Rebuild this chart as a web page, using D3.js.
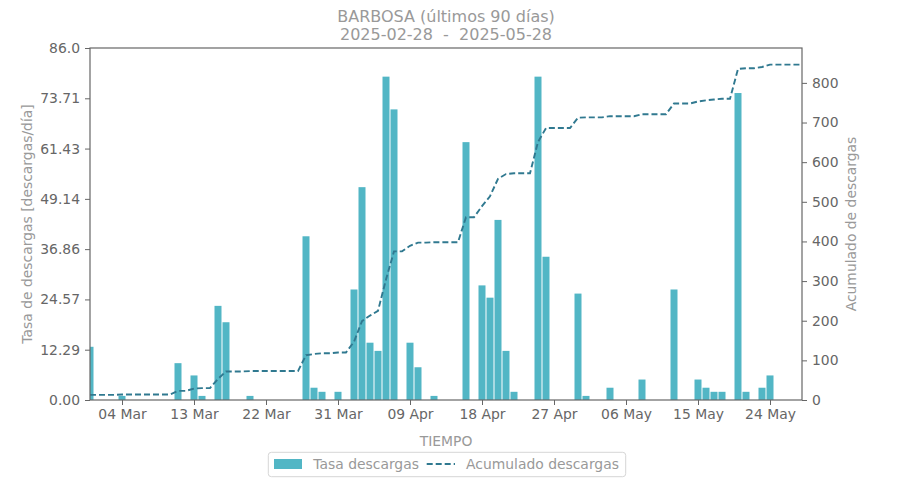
<!DOCTYPE html>
<html>
<head>
<meta charset="utf-8">
<script src="https://cdn.jsdelivr.net/npm/d3@7"></script>
<style>
  body { margin: 0; background: #fff; }
  svg { font-family: "DejaVu Sans", sans-serif; }
</style>
</head>
<body>
<div class="chart"></div>
<script>
// datos diarios, desde el 2025-02-28 (90 dias)
const fechaInicio = '2025-02-28';
const fechaFin = '2025-05-28';
const tasa = [
  13, 0, 0, 0, 1, 0, 0, 0, 0, 0,
  0, 9, 0, 6, 1, 0, 23, 19, 0, 0,
  1, 0, 0, 0, 0, 0, 0, 40, 3, 2,
  0, 2, 0, 27, 52, 14, 12, 79, 71, 0,
  14, 8, 0, 1, 0, 0, 0, 63, 0, 28,
  25, 44, 12, 2, 0, 0, 79, 35, 0, 0,
  0, 26, 1, 0, 0, 3, 0, 0, 0, 5,
  0, 0, 0, 27, 0, 0, 5, 3, 2, 2,
  0, 75, 2, 0, 3, 6, 0, 0, 0, 0
];
const xTicks = ['2025-03-04', '2025-03-13', '2025-03-22', '2025-03-31', '2025-04-09',
                '2025-04-18', '2025-04-27', '2025-05-06', '2025-05-15', '2025-05-24'];
const yTicks = [0, 12.29, 24.57, 36.86, 49.14, 61.43, 73.71, 86.0];
const yMax = 86;
const y2Max = 888;

const parse = d3.utcParse('%Y-%m-%d');
const start = parse(fechaInicio);
const dias = tasa.map((v, i) => d3.utcDay.offset(start, i));
const acumulado = Array.from(d3.cumsum(tasa));

const width = 900;
const height = 500;
const m = {left: 90, right: 802, top: 48, bottom: 400};

const barColor = '#52b6c5';
const lineColor = '#307990';
const axisColor = '#666';
const labelColor = '#999';

const svg = d3.select('.chart')
  .append('svg')
  .attr('width', width)
  .attr('height', height);

const x = d3.scaleUtc()
  .domain([start, parse(fechaFin)])
  .range([m.left, m.right]);
const y = d3.scaleLinear().domain([0, yMax]).range([m.bottom, m.top]);
const y2 = d3.scaleLinear().domain([0, y2Max]).range([m.bottom, m.top]);

const dayW = x(d3.utcDay.offset(start, 1)) - x(start);
const barW = dayW * 0.875;

svg.append('clipPath').attr('id', 'clip')
  .append('rect')
  .attr('x', m.left).attr('y', m.top)
  .attr('width', m.right - m.left).attr('height', m.bottom - m.top);

const plot = svg.append('g').attr('clip-path', 'url(#clip)');

plot.selectAll('rect.bar')
  .data(tasa)
  .enter()
  .append('rect')
  .attr('class', 'bar')
  .attr('x', (d, i) => x(dias[i]) - barW / 2)
  .attr('y', d => y(d))
  .attr('width', barW)
  .attr('height', d => m.bottom - y(d))
  .attr('fill', barColor);

const line = d3.line()
  .x((d, i) => x(dias[i]))
  .y(d => y2(d));

plot.append('path')
  .datum(acumulado)
  .attr('d', line)
  .attr('fill', 'none')
  .attr('stroke', lineColor)
  .attr('stroke-width', 1.9)
  .attr('stroke-dasharray', '6,3');

// ejes
const styleAxis = g => {
  g.select('.domain').remove();
  g.selectAll('.tick line').attr('stroke', axisColor);
  g.selectAll('.tick text')
    .attr('fill', axisColor)
    .attr('font-size', 13.9)
    .attr('font-family', '"DejaVu Sans", sans-serif');
};

svg.append('g')
  .attr('transform', `translate(0,${m.bottom})`)
  .call(d3.axisBottom(x)
    .tickValues(xTicks.map(parse))
    .tickFormat(d3.utcFormat('%d %b'))
    .tickSize(5).tickPadding(4))
  .call(styleAxis);

svg.append('g')
  .attr('transform', `translate(${m.left},0)`)
  .call(d3.axisLeft(y)
    .tickValues(yTicks)
    .tickFormat(d => d === 86 ? '86.0' : d.toFixed(2))
    .tickSize(5).tickPadding(5))
  .call(styleAxis);

svg.append('g')
  .attr('transform', `translate(${m.right},0)`)
  .call(d3.axisRight(y2)
    .tickValues(d3.range(0, 801, 100))
    .tickSize(5).tickPadding(5))
  .call(styleAxis);

svg.append('rect')
  .attr('x', m.left).attr('y', m.top)
  .attr('width', m.right - m.left).attr('height', m.bottom - m.top)
  .attr('fill', 'none')
  .attr('stroke', axisColor)
  .attr('stroke-width', 1.2);

// titulo en dos lineas
svg.append('text')
  .attr('x', 446).attr('y', 22)
  .attr('text-anchor', 'middle')
  .attr('font-size', 16)
  .attr('fill', labelColor)
  .text('BARBOSA (últimos 90 días)');

svg.append('text')
  .attr('x', 446).attr('y', 40)
  .attr('text-anchor', 'middle')
  .attr('font-size', 16)
  .attr('fill', labelColor)
  .attr('xml:space', 'preserve')
  .style('white-space', 'pre')
  .text(fechaInicio + '  -  ' + fechaFin);

svg.append('text')
  .attr('x', (m.left + m.right) / 2).attr('y', 446.3)
  .attr('text-anchor', 'middle')
  .attr('font-size', 13.9)
  .attr('fill', labelColor)
  .text('TIEMPO');

svg.append('text')
  .attr('transform', `translate(32,${(m.top + m.bottom) / 2}) rotate(-90)`)
  .attr('text-anchor', 'middle')
  .attr('font-size', 13.9)
  .attr('fill', labelColor)
  .text('Tasa de descargas [descargas/día]');

svg.append('text')
  .attr('transform', `translate(855.5,${(m.top + m.bottom) / 2}) rotate(-90)`)
  .attr('text-anchor', 'middle')
  .attr('font-size', 13.9)
  .attr('fill', labelColor)
  .text('Acumulado de descargas');

// leyenda
const legend = svg.append('g');
legend.append('rect')
  .attr('x', 268.3).attr('y', 452.3)
  .attr('width', 357.4).attr('height', 24.4)
  .attr('rx', 3)
  .attr('fill', '#fff')
  .attr('stroke', '#d6d6d6');
legend.append('rect')
  .attr('x', 274).attr('y', 459)
  .attr('width', 28).attr('height', 10)
  .attr('fill', barColor);
legend.append('text')
  .attr('x', 313.3).attr('y', 469)
  .attr('font-size', 13.9)
  .attr('fill', labelColor)
  .text('Tasa descargas');
legend.append('line')
  .attr('x1', 426.7).attr('x2', 455)
  .attr('y1', 464).attr('y2', 464)
  .attr('stroke', lineColor)
  .attr('stroke-width', 1.9)
  .attr('stroke-dasharray', '6,3');
legend.append('text')
  .attr('x', 466).attr('y', 469)
  .attr('font-size', 13.9)
  .attr('fill', labelColor)
  .text('Acumulado descargas');
</script>
</body>
</html>
